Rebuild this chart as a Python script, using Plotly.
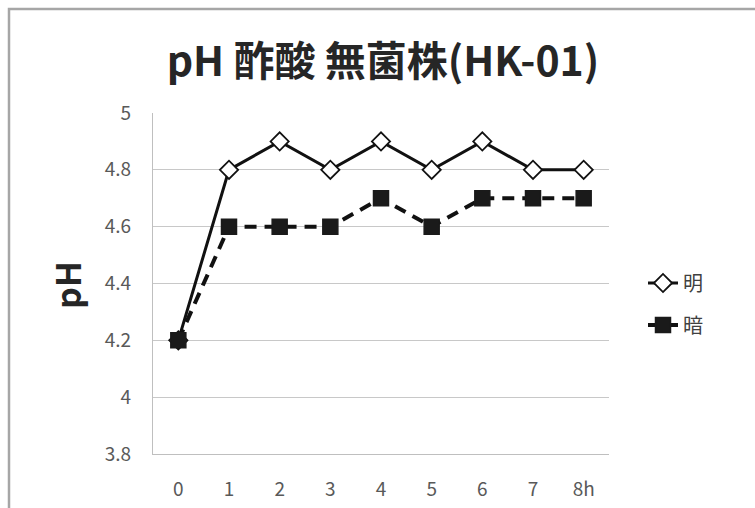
import plotly.graph_objects as go

categories = ["0", "1", "2", "3", "4", "5", "6", "7", "8h"]
light_vals = [4.2, 4.8, 4.9, 4.8, 4.9, 4.8, 4.9, 4.8, 4.8]
dark_vals = [4.2, 4.6, 4.6, 4.6, 4.7, 4.6, 4.7, 4.7, 4.7]
y_ticks = [3.8, 4.0, 4.2, 4.4, 4.6, 4.8, 5.0]
y_tick_text = ["3.8", "4", "4.2", "4.4", "4.6", "4.8", "5"]

FONT = "Noto Sans CJK JP"
W, H = 755, 508
L, R, T, B = 153, 146, 113, 54
pw, ph = W - L - R, H - T - B

def px(x):
    return (x - L) / pw

def py(y):
    return (H - B - y) / ph

fig = go.Figure()
fig.add_trace(go.Scatter(
    x=categories, y=light_vals, name="明", mode="lines+markers",
    line=dict(color="#111111", width=3),
    marker=dict(symbol="diamond", size=14, color="white",
                line=dict(color="#111111", width=1.8)),
    legend="legend", showlegend=True,
))
fig.add_trace(go.Scatter(
    x=categories, y=dark_vals, name="暗", mode="lines+markers",
    line=dict(color="#111111", width=4, dash="12px,8px"),
    marker=dict(symbol="square", size=15, color="#1a1a1a",
                line=dict(color="#1a1a1a", width=1.5)),
    legend="legend2", showlegend=True,
))

fig.update_layout(
    width=W, height=H,
    showlegend=True,
    margin=dict(l=L, r=R, t=T, b=B, autoexpand=False),
    paper_bgcolor="white", plot_bgcolor="white",
    font=dict(family=FONT, color="#595959", size=19),
    title=dict(text="<b>pH 酢酸 無菌株(HK-01)</b>", x=383 / W, xanchor="center",
               y=1 - 62 / H, yanchor="middle",
               font=dict(family=FONT, size=41, color="#262626")),
    xaxis=dict(type="category", range=[-0.5, 8.5], showgrid=False,
               showline=True, linecolor="#bfbfbf", linewidth=1.2,
               ticks="", ticklabelstandoff=18, automargin=False,
               tickfont=dict(size=19, color="#595959"), fixedrange=True),
    yaxis=dict(range=[3.8, 5.0], tickvals=y_ticks, ticktext=y_tick_text,
               showgrid=True, gridcolor="#c8c8c8", gridwidth=1.2,
               showline=True, linecolor="#bfbfbf", linewidth=1.2,
               ticks="", ticklabelstandoff=17, zeroline=False, automargin=False,
               tickfont=dict(size=19, color="#595959"), fixedrange=True),
    legend=dict(x=px(643), y=py(283), xanchor="left", yanchor="middle",
                bgcolor="rgba(0,0,0,0)", font=dict(size=20, color="#404040"),
                itemsizing="trace"),
    legend2=dict(x=px(643), y=py(325), xanchor="left", yanchor="middle",
                 bgcolor="rgba(0,0,0,0)", font=dict(size=20, color="#404040"),
                 itemsizing="trace"),
    annotations=[dict(text="<b>pH</b>", xref="paper", yref="paper",
                      x=px(66), y=py(285), xanchor="center", yanchor="middle",
                      textangle=-90, showarrow=False,
                      font=dict(family=FONT, size=34, color="#262626"))],
    shapes=[dict(type="rect", xref="paper", yref="paper",
                 x0=px(9), x1=px(800), y0=py(560), y1=py(9),
                 line=dict(color="#a6a6a6", width=2.5), layer="below")],
)

fig.write_html("out.html", config={"displayModeBar": False},
               post_script="document.body.style.margin='0';")
